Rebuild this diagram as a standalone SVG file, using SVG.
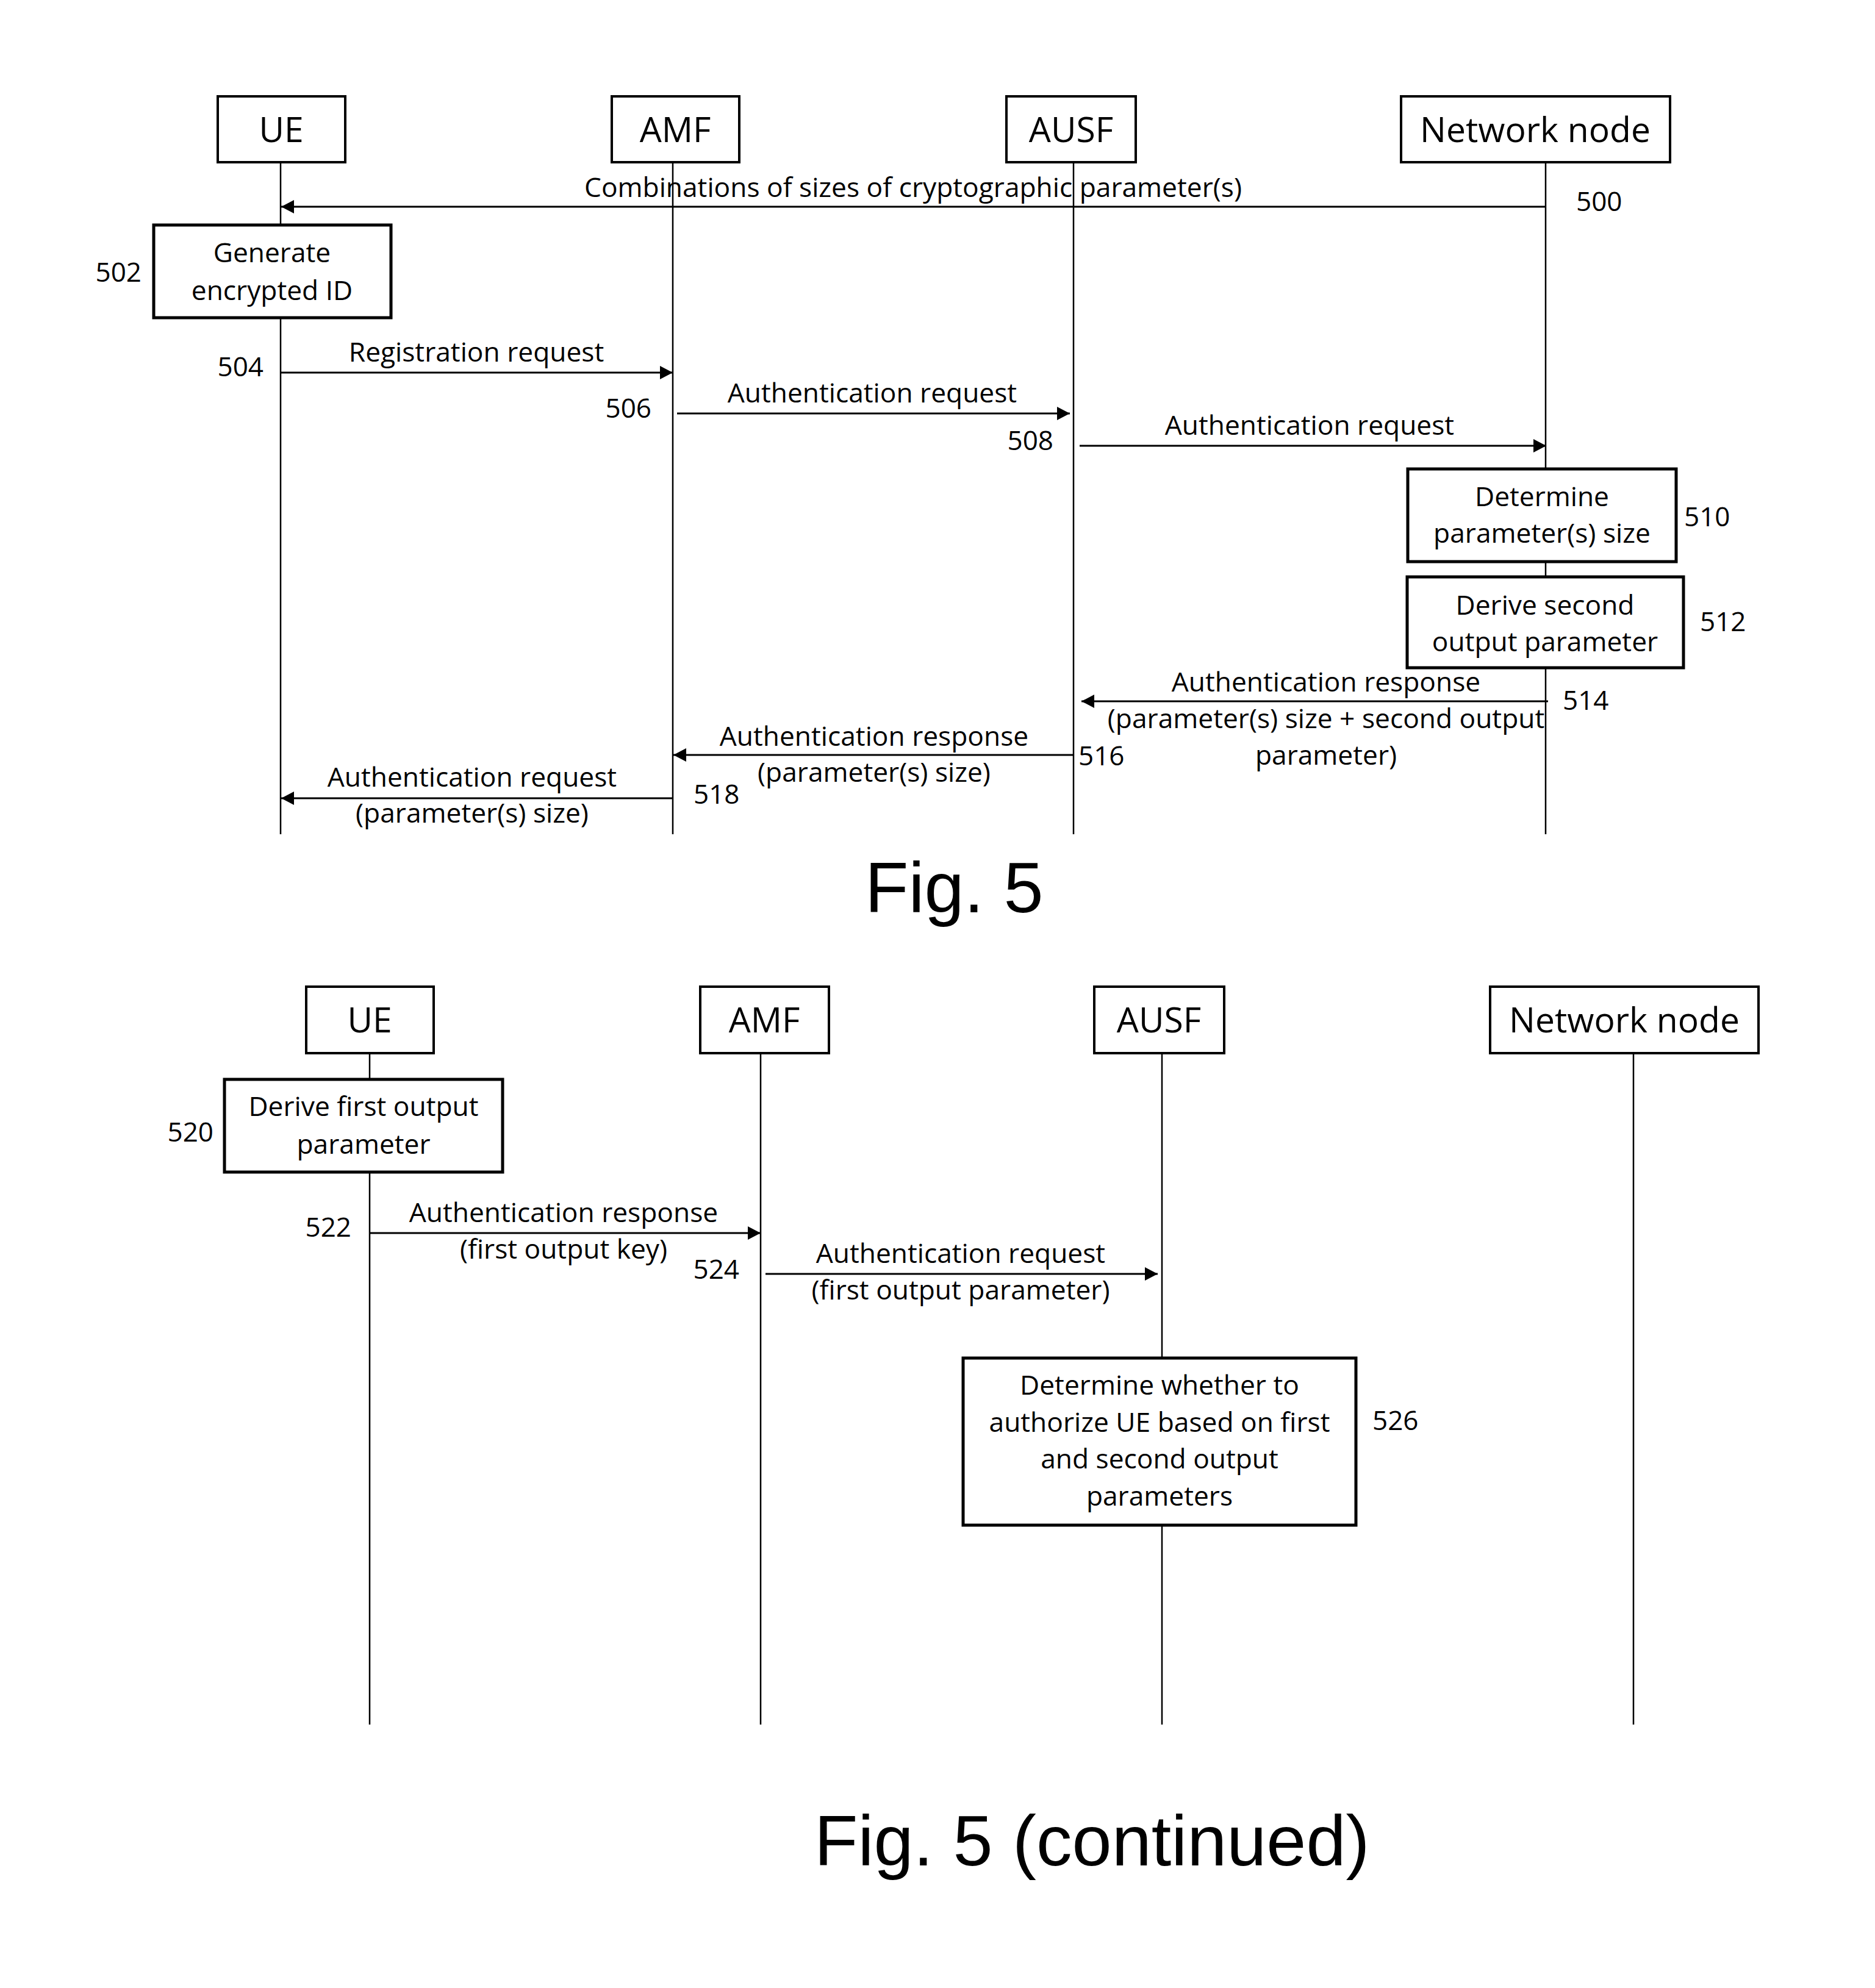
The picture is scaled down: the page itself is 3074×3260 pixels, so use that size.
<svg xmlns="http://www.w3.org/2000/svg" width="3074" height="3260" viewBox="0 0 3074 3260">
<defs>
<style>
.hdr{fill:#fff;stroke:#000;stroke-width:4}
.box{fill:#fff;stroke:#000;stroke-width:5}
.life{stroke:#000;stroke-width:2.5;fill:none}
.msg{stroke:#000;stroke-width:3;fill:none;marker-end:url(#ah)}
text{font-family:"Open Sans","Noto Sans",sans-serif;fill:#000}
.ht{font-size:57px;text-anchor:middle}
.t{font-size:44.3px;text-anchor:middle}
.n{font-size:44px}
.ne{font-size:44px;text-anchor:end}
.fig{font-family:"Liberation Sans",Arial,sans-serif;font-size:117px}
</style>
<marker id="ah" markerUnits="userSpaceOnUse" markerWidth="22" markerHeight="22" refX="21" refY="11" orient="auto">
<path d="M0,0 L21,11 L0,22 z" fill="#000"/>
</marker>
</defs>
<rect width="3074" height="3260" fill="#fff"/>

<g id="lifelines-top">
<line class="life" x1="460" y1="266" x2="460" y2="1368"/>
<line class="life" x1="1103" y1="266" x2="1103" y2="1368"/>
<line class="life" x1="1760" y1="266" x2="1760" y2="1368"/>
<line class="life" x1="2534" y1="266" x2="2534" y2="1368"/>
</g>
<g id="lifelines-bottom">
<line class="life" x1="606" y1="1727" x2="606" y2="2828"/>
<line class="life" x1="1247" y1="1727" x2="1247" y2="2828"/>
<line class="life" x1="1905" y1="1727" x2="1905" y2="2828"/>
<line class="life" x1="2678" y1="1727" x2="2678" y2="2828"/>
</g>

<g id="ue1"><rect class="hdr" x="357" y="158" width="209" height="108"/><text class="ht" x="461" y="233">UE</text></g>
<g id="amf1"><rect class="hdr" x="1003" y="158" width="209" height="108"/><text class="ht" x="1107" y="233">AMF</text></g>
<g id="ausf1"><rect class="hdr" x="1650" y="158" width="212" height="108"/><text class="ht" x="1756" y="233">AUSF</text></g>
<g id="nn1"><rect class="hdr" x="2297" y="158" width="441" height="108"/><text class="ht" x="2517" y="233">Network node</text></g>

<g id="s502"><rect class="box" x="252" y="369" width="389" height="152"/><text class="t" x="446" y="430">Generate</text><text class="t" x="446" y="492">encrypted ID</text><text class="ne" x="232" y="462">502</text></g>
<g id="s510"><rect class="box" x="2308" y="769" width="440" height="152"/><text class="t" x="2528" y="830">Determine</text><text class="t" x="2528" y="890">parameter(s) size</text><text class="n" x="2761" y="863">510</text></g>
<g id="s512"><rect class="box" x="2307" y="946" width="453" height="149"/><text class="t" x="2533" y="1008">Derive second</text><text class="t" x="2533" y="1068">output parameter</text><text class="n" x="2787" y="1035">512</text></g>

<g id="connectors-top">
<line class="msg" x1="2534" y1="339" x2="461" y2="339"/>
<line class="msg" x1="460" y1="611" x2="1103" y2="611"/>
<line class="msg" x1="1110" y1="678" x2="1754" y2="678"/>
<line class="msg" x1="1770" y1="731" x2="2535" y2="731"/>
<line class="msg" x1="2538" y1="1150" x2="1773" y2="1150"/>
<line class="msg" x1="1760" y1="1238" x2="1104" y2="1238"/>
<line class="msg" x1="1103" y1="1309" x2="461" y2="1309"/>
</g>

<g id="labels-top">
<text class="t" x="1497" y="323">Combinations of sizes of cryptographic parameter(s)</text>
<text class="n" x="2584" y="346">500</text>
<text class="t" x="781" y="593">Registration request</text>
<text class="ne" x="432" y="617">504</text>
<text class="t" x="1430" y="660">Authentication request</text>
<text class="ne" x="1068" y="685">506</text>
<text class="t" x="2147" y="713">Authentication request</text>
<text class="ne" x="1727" y="738">508</text>
<text class="t" x="2174" y="1134">Authentication response</text>
<text class="t" x="2174" y="1194">(parameter(s) size + second output</text>
<text class="t" x="2174" y="1254">parameter)</text>
<text class="n" x="2562" y="1164">514</text>
<text class="t" x="1433" y="1223">Authentication response</text>
<text class="t" x="1433" y="1282">(parameter(s) size)</text>
<text class="n" x="1768" y="1255">516</text>
<text class="t" x="774" y="1290">Authentication request</text>
<text class="t" x="774" y="1349">(parameter(s) size)</text>
<text class="n" x="1137" y="1318">518</text>
<text class="fig" x="1418" y="1496">Fig. 5</text>
</g>

<g id="ue2"><rect class="hdr" x="502" y="1618" width="209" height="109"/><text class="ht" x="606" y="1693">UE</text></g>
<g id="amf2"><rect class="hdr" x="1148" y="1618" width="211" height="109"/><text class="ht" x="1253" y="1693">AMF</text></g>
<g id="ausf2"><rect class="hdr" x="1794" y="1618" width="213" height="109"/><text class="ht" x="1900" y="1693">AUSF</text></g>
<g id="nn2"><rect class="hdr" x="2443" y="1618" width="440" height="109"/><text class="ht" x="2663" y="1693">Network node</text></g>

<g id="s520"><rect class="box" x="368" y="1770" width="456" height="152"/><text class="t" x="596" y="1830">Derive first output</text><text class="t" x="596" y="1892">parameter</text><text class="ne" x="350" y="1872">520</text></g>
<g id="s526"><rect class="box" x="1579" y="2227" width="644" height="274"/><text class="t" x="1901" y="2287">Determine whether to</text><text class="t" x="1901" y="2348">authorize UE based on first</text><text class="t" x="1901" y="2408">and second output</text><text class="t" x="1901" y="2469">parameters</text><text class="n" x="2250" y="2345">526</text></g>

<g id="connectors-bottom">
<line class="msg" x1="606" y1="2022" x2="1247" y2="2022"/>
<line class="msg" x1="1255" y1="2089" x2="1898" y2="2089"/>
</g>

<g id="labels-bottom">
<text class="t" x="924" y="2004">Authentication response</text>
<text class="t" x="924" y="2064">(first output key)</text>
<text class="ne" x="576" y="2028">522</text>
<text class="t" x="1575" y="2071">Authentication request</text>
<text class="t" x="1575" y="2131">(first output parameter)</text>
<text class="ne" x="1212" y="2097">524</text>
<text class="fig" x="1335" y="3059">Fig. 5 (continued)</text>
</g>
</svg>
